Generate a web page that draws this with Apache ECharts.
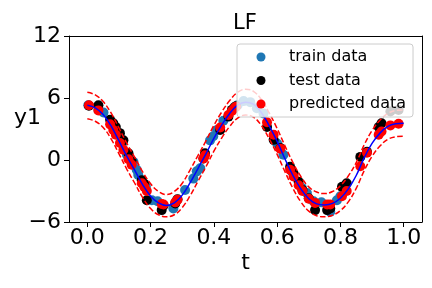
<!DOCTYPE html>
<html>
<head>
<meta charset="utf-8">
<script src="https://cdn.jsdelivr.net/npm/echarts@6/dist/echarts.min.js"></script>
<style>html,body{margin:0;padding:0;background:#fff}#c{width:432px;height:288px}</style>
</head>
<body>
<div id="c"></div>
<script>
// Mean curve (blue line) and bounds (red dashed)
const curveT = [0.000,0.025,0.050,0.075,0.100,0.125,0.150,0.175,0.200,0.225,0.250,0.275,0.300,0.325,0.350,0.375,0.400,0.425,0.450,0.475,0.500,0.525,0.550,0.575,0.600,0.625,0.650,0.675,0.700,0.725,0.750,0.775,0.800,0.825,0.850,0.875,0.900,0.925,0.950,0.975,1.000];
const meanY = [5.30,5.05,4.40,3.30,1.85,0.35,-1.00,-2.40,-3.50,-4.15,-4.40,-4.15,-3.40,-2.20,-0.80,0.60,2.10,3.40,4.50,5.30,5.60,5.40,4.60,3.30,1.80,0.10,-1.50,-2.80,-3.75,-4.25,-4.35,-4.20,-3.70,-2.80,-1.50,0.20,1.60,2.60,3.25,3.50,3.55];
const upperY = [6.55,6.30,5.65,4.55,3.10,1.60,0.25,-1.15,-2.30,-3.05,-3.35,-3.05,-2.25,-0.95,0.45,1.85,3.35,4.65,5.75,6.55,6.85,6.65,5.85,4.55,3.05,1.35,-0.25,-1.60,-2.60,-3.10,-3.25,-3.05,-2.50,-1.55,-0.25,1.45,2.85,3.85,4.50,4.80,4.85];
const lowerY = [4.00,3.75,3.15,2.05,0.60,-0.90,-2.25,-3.65,-4.70,-5.30,-5.50,-5.30,-4.60,-3.45,-2.05,-0.65,0.85,2.15,3.25,4.05,4.35,4.15,3.35,2.05,0.55,-1.15,-2.75,-4.05,-4.95,-5.40,-5.50,-5.35,-4.90,-4.05,-2.75,-1.05,0.35,1.35,2.00,2.25,2.30];

// Train data
const trainT = [0.003,0.035,0.051,0.085,0.110,0.125,0.146,0.156,0.161,0.185,0.204,0.222,0.272,0.283,0.309,0.335,0.346,0.357,0.388,0.398,0.410,0.430,0.475,0.494,0.515,0.536,0.557,0.600,0.620,0.647,0.678,0.694,0.715,0.740,0.768,0.789,0.800];
const trainY = [5.3,4.85,4.6,3.0,1.6,0.5,-0.2,-0.95,-1.45,-2.6,-3.9,-4.0,-4.7,-3.9,-2.9,-1.8,-1.1,-0.8,1.9,2.3,2.9,3.8,5.3,5.7,5.6,5.0,4.5,1.6,0.5,-1.1,-2.7,-3.2,-4.0,-4.1,-5.0,-3.9,-3.5];

// Test data
const testT = [0.005,0.035,0.072,0.082,0.090,0.103,0.114,0.130,0.140,0.172,0.180,0.188,0.235,0.241,0.278,0.285,0.367,0.372,0.420,0.446,0.457,0.465,0.470,0.568,0.589,0.610,0.641,0.652,0.668,0.680,0.700,0.720,0.758,0.768,0.805,0.820,0.863,0.884,0.921,0.930,0.958,0.984];
const testY = [5.25,5.3,3.9,3.55,3.2,2.6,1.9,0.65,-0.1,-1.95,-2.3,-3.9,-4.85,-4.4,-4.2,-3.8,0.15,0.65,2.9,4.2,4.85,5.1,5.2,3.2,1.95,1.15,-0.65,-1.3,-2.1,-2.9,-3.7,-4.85,-4.85,-4.7,-2.6,-2.25,0.3,0.8,3.2,3.55,4.7,4.85];

// Predicted data (same t as test)
const predY = [5.3,4.8,3.45,2.9,2.45,1.65,1.0,0.08,-0.45,-2.25,-2.6,-3.0,-4.25,-4.3,-4.1,-3.85,0.15,0.45,3.15,4.35,4.75,5.0,5.15,3.65,2.45,1.1,-0.95,-1.6,-2.45,-3.0,-3.75,-4.15,-4.3,-4.3,-3.5,-3.0,-0.6,0.7,2.45,2.75,3.35,3.5];

const xTicks = [0.0,0.2,0.4,0.6,0.8,1.0];
const yTicks = [-6,0,6,12];

const pair = (a,b)=>a.map((v,i)=>[v,b[i]]);
const FONT = 'DejaVu Sans';
const X_MIN = -0.058, X_MAX = 1.058;

const chart = echarts.init(document.getElementById('c'), null, {renderer:'canvas'});
chart.setOption({
  animation: false,
  backgroundColor: '#fff',
  title: {
    text: 'LF', left: 233, top: 13, padding: 0,
    textStyle: {fontFamily: FONT, fontSize: 21, fontWeight: 'normal', color: '#000'}
  },
  grid: {left: 69, right: 10, top: 36, bottom: 66, containLabel: false, outerBoundsMode: 'none'},
  legend: {
    orient: 'vertical', left: 237, top: 44, padding: [5,7,5,19.5],
    itemGap: 7.5, itemWidth: 46, itemHeight: 9, icon: 'circle',
    data: ['train data','test data','predicted data'],
    textStyle: {fontFamily: FONT, fontSize: 16, color: '#000', lineHeight: 16},
    backgroundColor: 'rgba(255,255,255,0.8)', borderColor: '#cccccc', borderWidth: 1, borderRadius: 3
  },
  xAxis: [{
    type: 'value', min: X_MIN, max: X_MAX,
    name: 't', nameLocation: 'middle', nameGap: 30, nameMoveOverlap: false,
    nameTextStyle: {fontFamily: FONT, fontSize: 22, color: '#000'},
    splitLine: {show: false},
    axisLine: {show: true, onZero: false, lineStyle: {color: '#000', width: 1}},
    axisTick: {show: true, length: 5, lineStyle: {color: '#000'}, customValues: xTicks},
    axisLabel: {customValues: xTicks, margin: 5, fontFamily: FONT, fontSize: 22, color: '#000', formatter: v => v.toFixed(1)}
  }, {
    type: 'value', position: 'top', min: X_MIN, max: X_MAX,
    splitLine: {show: false}, axisTick: {show: false}, axisLabel: {show: false},
    axisLine: {show: true, onZero: false, lineStyle: {color: '#000', width: 1}}
  }],
  yAxis: [{
    type: 'value', min: -6, max: 12, interval: 6,
    name: 'y1', nameLocation: 'middle', nameGap: 28, nameRotate: 0, nameMoveOverlap: false,
    nameTextStyle: {fontFamily: FONT, fontSize: 22, color: '#000', align: 'right', verticalAlign: 'bottom'},
    splitLine: {show: false},
    axisLine: {show: true, onZero: false, lineStyle: {color: '#000', width: 1}},
    axisTick: {show: true, length: 5, lineStyle: {color: '#000'}},
    axisLabel: {margin: 8, fontFamily: FONT, fontSize: 22, color: '#000', formatter: v => String(v).replace('-', '\u2212')}
  }, {
    type: 'value', position: 'right', min: -6, max: 12, interval: 6,
    splitLine: {show: false}, axisTick: {show: false}, axisLabel: {show: false},
    axisLine: {show: true, onZero: false, lineStyle: {color: '#000', width: 1}}
  }],
  series: [
    {name: 'train data', type: 'scatter', data: pair(trainT, trainY), symbolSize: 10, itemStyle: {color: '#1f77b4', opacity: 1}, z: 2},
    {name: 'test data', type: 'scatter', data: pair(testT, testY), symbolSize: 10, itemStyle: {color: '#000000', opacity: 1}, z: 2},
    {name: 'predicted data', type: 'scatter', data: pair(testT, predY), symbolSize: 10, itemStyle: {color: '#ff0000', opacity: 1}, z: 2},
    {name: 'mean', type: 'line', data: pair(curveT, meanY), showSymbol: false, smooth: 0.4, lineStyle: {color: '#0000ff', width: 1.5}, z: 3, silent: true},
    {name: 'upper', type: 'line', data: pair(curveT, upperY), showSymbol: false, smooth: 0.4, lineStyle: {color: '#ff0000', width: 1.5, type: [5.5, 2.4]}, z: 3, silent: true},
    {name: 'lower', type: 'line', data: pair(curveT, lowerY), showSymbol: false, smooth: 0.4, lineStyle: {color: '#ff0000', width: 1.5, type: [5.5, 2.4]}, z: 3, silent: true}
  ]
});
</script>
</body>
</html>
